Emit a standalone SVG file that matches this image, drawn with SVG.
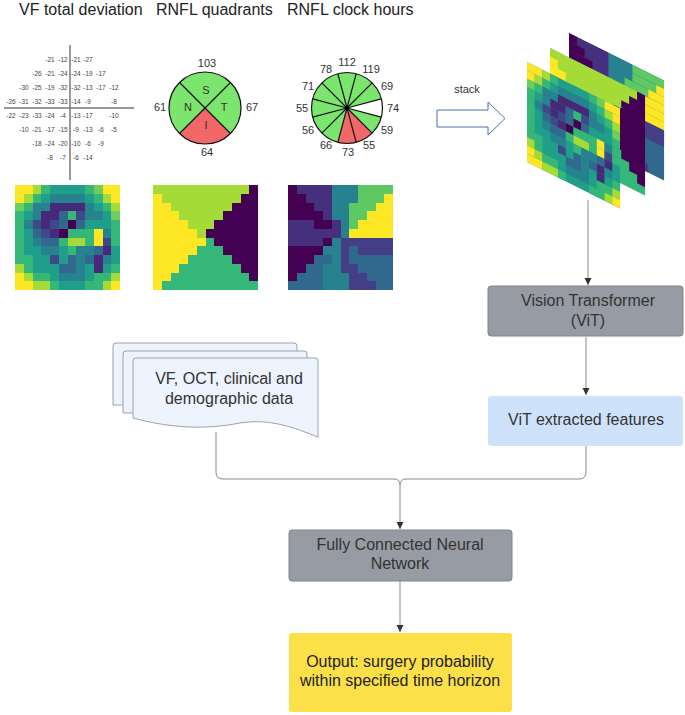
<svg xmlns="http://www.w3.org/2000/svg" width="685" height="715" viewBox="0 0 685 715">
<defs>
<style>
text{font-family:"Liberation Sans",Arial,sans-serif}
.title{font-size:16px;fill:#222}
.vf{font-size:6.5px;fill:#444;text-anchor:middle}
.lbl{font-size:11px;fill:#333;text-anchor:middle}
.box{font-size:16px;fill:#333;text-anchor:middle}
.y{fill:#fde725}.ll{fill:#a5db36}.l{fill:#6ece58}.g{fill:#35b779}.t2{fill:#1f9e89}.t{fill:#26828e}.t1{fill:#31688e}.b{fill:#3e4989}.p{fill:#482878}.d{fill:#440154}
.pu{fill:#46307e}.pb{fill:#433e85}.gr{fill:#5ec962}
.conn{fill:none;stroke:#8a8a8a;stroke-width:1}
.doc{fill:#edf4fd;stroke:#9aa3ad;stroke-width:1}
</style>
<marker id="ah" markerUnits="userSpaceOnUse" markerWidth="8" markerHeight="8" refX="7" refY="4" orient="auto"><path d="M0,0.5 L7,4 L0,7.5 Z" fill="#333"/></marker>
<g id="vfmap">
<rect class="t2" x="0" y="0" width="12" height="12"/>
<rect class="y" x="0" y="0" width="2" height="1"/><rect class="ll" x="2" y="0" width="1" height="1"/><rect class="g" x="3" y="0" width="1" height="1"/><rect class="g" x="8" y="0" width="1" height="1"/><rect class="l" x="9" y="0" width="1" height="1"/><rect class="y" x="10" y="0" width="2" height="1"/>
<rect class="y" x="0" y="1" width="1" height="1"/><rect class="ll" x="1" y="1" width="1" height="1"/><rect class="g" x="2" y="1" width="1" height="1"/><rect class="t" x="4" y="1" width="4" height="1"/><rect class="g" x="9" y="1" width="1" height="1"/><rect class="ll" x="10" y="1" width="1" height="1"/><rect class="y" x="11" y="1" width="1" height="1"/>
<rect class="l" x="0" y="2" width="1" height="1"/><rect class="g" x="1" y="2" width="1" height="1"/><rect class="t" x="2" y="2" width="2" height="1"/><rect class="p" x="4" y="2" width="4" height="1"/><rect class="t" x="8" y="2" width="1" height="1"/><rect class="g" x="10" y="2" width="1" height="1"/><rect class="ll" x="11" y="2" width="1" height="1"/>
<rect class="g" x="0" y="3" width="1" height="1"/><rect class="t" x="2" y="3" width="1" height="1"/><rect class="p" x="3" y="3" width="2" height="1"/><rect class="t1" x="5" y="3" width="1" height="1"/><rect class="g" x="6" y="3" width="1" height="1"/><rect class="b" x="7" y="3" width="1" height="1"/><rect class="t" x="8" y="3" width="2" height="1"/><rect class="l" x="11" y="3" width="1" height="1"/>
<rect class="g" x="0" y="4" width="1" height="1"/><rect class="t" x="1" y="4" width="1" height="1"/><rect class="b" x="2" y="4" width="1" height="1"/><rect class="p" x="3" y="4" width="1" height="1"/><rect class="b" x="4" y="4" width="1" height="1"/><rect class="t1" x="5" y="4" width="1" height="1"/><rect class="d" x="6" y="4" width="1" height="1"/><rect class="t1" x="7" y="4" width="1" height="1"/><rect class="g" x="11" y="4" width="1" height="1"/>
<rect class="g" x="0" y="5" width="1" height="1"/><rect class="t1" x="2" y="5" width="1" height="1"/><rect class="b" x="3" y="5" width="1" height="1"/><rect class="p" x="4" y="5" width="1" height="1"/><rect class="d" x="5" y="5" width="1" height="1"/><rect class="g" x="6" y="5" width="3" height="1"/><rect class="y" x="9" y="5" width="1" height="1"/><rect class="t" x="10" y="5" width="1" height="1"/><rect class="g" x="11" y="5" width="1" height="1"/>
<rect class="g" x="0" y="6" width="1" height="1"/><rect class="t" x="2" y="6" width="1" height="1"/><rect class="t1" x="3" y="6" width="2" height="1"/><rect class="g" x="5" y="6" width="1" height="1"/><rect class="ll" x="6" y="6" width="2" height="1"/><rect class="g" x="8" y="6" width="1" height="1"/><rect class="y" x="9" y="6" width="1" height="1"/><rect class="b" x="10" y="6" width="1" height="1"/><rect class="g" x="11" y="6" width="1" height="1"/>
<rect class="g" x="0" y="7" width="1" height="1"/><rect class="t" x="3" y="7" width="2" height="1"/><rect class="g" x="6" y="7" width="1" height="1"/><rect class="t" x="7" y="7" width="2" height="1"/><rect class="t1" x="9" y="7" width="1" height="1"/><rect class="p" x="10" y="7" width="1" height="1"/>
<rect class="g" x="0" y="8" width="2" height="1"/><rect class="b" x="4" y="8" width="1" height="1"/><rect class="t1" x="6" y="8" width="1" height="1"/><rect class="t" x="7" y="8" width="1" height="1"/><rect class="t1" x="8" y="8" width="1" height="1"/><rect class="p" x="9" y="8" width="1" height="1"/><rect class="t" x="10" y="8" width="1" height="1"/>
<rect class="ll" x="0" y="9" width="1" height="1"/><rect class="g" x="1" y="9" width="1" height="1"/><rect class="t1" x="5" y="9" width="2" height="1"/><rect class="t" x="7" y="9" width="1" height="1"/><rect class="p" x="9" y="9" width="1" height="1"/><rect class="g" x="11" y="9" width="1" height="1"/>
<rect class="y" x="0" y="10" width="1" height="1"/><rect class="ll" x="1" y="10" width="1" height="1"/><rect class="g" x="2" y="10" width="2" height="1"/><rect class="t" x="5" y="10" width="3" height="1"/><rect class="g" x="9" y="10" width="2" height="1"/><rect class="ll" x="11" y="10" width="1" height="1"/>
<rect class="y" x="0" y="11" width="2" height="1"/><rect class="ll" x="2" y="11" width="2" height="1"/><rect class="g" x="4" y="11" width="1" height="1"/><rect class="g" x="8" y="11" width="2" height="1"/><rect class="ll" x="10" y="11" width="1" height="1"/><rect class="y" x="11" y="11" width="1" height="1"/>
</g>
<g id="qmap">
<rect class="g" x="0" y="0" width="12" height="12"/>
<polygon class="ll" points="0,0 11,0 11,1 10,1 10,2 9,2 9,3 8,3 8,4 7,4 7,5 6,5 6,6 5,6 5,5 4,5 4,4 3,4 3,3 2,3 2,2 1,2 1,1 0,1"/>
<polygon class="d" points="11,0 12,0 12,11 11,11 11,10 10,10 10,9 9,9 9,8 8,8 8,7 7,7 7,6 6,6 6,5 7,5 7,4 8,4 8,3 9,3 9,2 10,2 10,1 11,1"/>
<polygon class="y" points="0,1 1,1 1,2 2,2 2,3 3,3 3,4 4,4 4,5 5,5 5,6 6,6 6,7 5,7 5,8 4,8 4,9 3,9 3,10 2,10 2,11 1,11 1,12 0,12"/>
</g>
<g id="cmap">
<rect class="t1" x="0" y="0" width="12" height="12"/>
<rect class="d" x="0" y="0" width="1" height="1"/><rect class="pu" x="1" y="0" width="4" height="1"/><rect class="t" x="5" y="0" width="3" height="1"/><rect class="gr" x="8" y="0" width="4" height="1"/>
<rect class="d" x="0" y="1" width="2" height="1"/><rect class="pu" x="2" y="1" width="3" height="1"/><rect class="t" x="5" y="1" width="3" height="1"/><rect class="gr" x="8" y="1" width="3" height="1"/><rect class="y" x="11" y="1" width="1" height="1"/>
<rect class="d" x="0" y="2" width="3" height="1"/><rect class="pu" x="3" y="2" width="2" height="1"/><rect class="t" x="5" y="2" width="2" height="1"/><rect class="gr" x="7" y="2" width="3" height="1"/><rect class="y" x="10" y="2" width="2" height="1"/>
<rect class="d" x="0" y="3" width="4" height="1"/><rect class="pu" x="4" y="3" width="1" height="1"/><rect class="t" x="5" y="3" width="2" height="1"/><rect class="gr" x="7" y="3" width="2" height="1"/><rect class="y" x="9" y="3" width="3" height="1"/>
<rect class="pu" x="0" y="4" width="3" height="1"/><rect class="d" x="3" y="4" width="2" height="1"/><rect class="pu" x="5" y="4" width="1" height="1"/><rect class="t" x="6" y="4" width="1" height="1"/><rect class="gr" x="7" y="4" width="1" height="1"/><rect class="y" x="8" y="4" width="4" height="1"/>
<rect class="pu" x="0" y="5" width="6" height="1"/><rect class="t" x="6" y="5" width="1" height="1"/><rect class="y" x="7" y="5" width="5" height="1"/>
<rect class="pu" x="0" y="6" width="4" height="1"/><rect class="d" x="4" y="6" width="1" height="1"/><rect class="t" x="5" y="6" width="1" height="1"/><rect class="pb" x="6" y="6" width="6" height="1"/>
<rect class="d" x="0" y="7" width="4" height="1"/><rect class="t" x="4" y="7" width="2" height="1"/><rect class="pb" x="6" y="7" width="1" height="1"/><rect class="pb" x="8" y="7" width="4" height="1"/>
<rect class="d" x="0" y="8" width="3" height="1"/><rect class="t" x="5" y="8" width="1" height="1"/><rect class="pb" x="6" y="8" width="1" height="1"/>
<rect class="d" x="0" y="9" width="2" height="1"/><rect class="t" x="4" y="9" width="2" height="1"/><rect class="pb" x="6" y="9" width="2" height="1"/>
<rect class="d" x="0" y="10" width="1" height="1"/><rect class="t" x="4" y="10" width="3" height="1"/><rect class="pb" x="7" y="10" width="2" height="1"/>
<rect class="t" x="4" y="11" width="3" height="1"/><rect class="pb" x="7" y="11" width="3" height="1"/>
</g>
</defs>

<rect width="685" height="715" fill="#ffffff"/>

<g id="titles">
<text class="title" x="19" y="15">VF total deviation</text>
<text class="title" x="156" y="15">RNFL quadrants</text>
<text class="title" x="287" y="15">RNFL clock hours</text>
</g>

<g id="vf-total-deviation">
<line x1="70" y1="45" x2="70" y2="180" stroke="#777" stroke-width="1.5"/>
<line x1="4" y1="108" x2="134" y2="108" stroke="#777" stroke-width="1.5"/>
<g class="vf">
<text x="50" y="62">-21</text><text x="63" y="62">-12</text><text x="76" y="62">-21</text><text x="88" y="62">-27</text>
<text x="37" y="76">-26</text><text x="50" y="76">-21</text><text x="63" y="76">-24</text><text x="76" y="76">-24</text><text x="88" y="76">-19</text><text x="101" y="76">-17</text>
<text x="24" y="90">-30</text><text x="37" y="90">-25</text><text x="50" y="90">-19</text><text x="63" y="90">-32</text><text x="76" y="90">-32</text><text x="88" y="90">-13</text><text x="101" y="90">-17</text><text x="114" y="90">-12</text>
<text x="11" y="104">-26</text><text x="24" y="104">-31</text><text x="37" y="104">-32</text><text x="50" y="104">-33</text><text x="63" y="104">-33</text><text x="76" y="104">-14</text><text x="88" y="104">-9</text><text x="114" y="104">-8</text>
<text x="11" y="118">-22</text><text x="24" y="118">-23</text><text x="37" y="118">-33</text><text x="50" y="118">-24</text><text x="63" y="118">-4</text><text x="76" y="118">-13</text><text x="88" y="118">-17</text><text x="114" y="118">-10</text>
<text x="24" y="132">-10</text><text x="37" y="132">-21</text><text x="50" y="132">-17</text><text x="63" y="132">-15</text><text x="76" y="132">-9</text><text x="88" y="132">-13</text><text x="101" y="132">-6</text><text x="114" y="132">-5</text>
<text x="37" y="146">-18</text><text x="50" y="146">-24</text><text x="63" y="146">-20</text><text x="76" y="146">-10</text><text x="88" y="146">-6</text><text x="101" y="146">-9</text>
<text x="50" y="160">-8</text><text x="63" y="160">-7</text><text x="76" y="160">-6</text><text x="88" y="160">-14</text>
</g>
</g>

<g id="rnfl-quadrants">
<circle cx="205" cy="108" r="36" fill="#7be56d"/>
<path d="M205,108 L230.46,133.46 A36,36 0 0 1 179.54,133.46 Z" fill="#f26767"/>
<line x1="179.54" y1="82.54" x2="230.46" y2="133.46" stroke="#111" stroke-width="1.2"/>
<line x1="230.46" y1="82.54" x2="179.54" y2="133.46" stroke="#111" stroke-width="1.2"/>
<circle cx="205" cy="108" r="36" fill="none" stroke="#111" stroke-width="1.2"/>
<text class="lbl" x="206" y="94">S</text><text class="lbl" x="188" y="111">N</text><text class="lbl" x="224" y="111">T</text><text class="lbl" x="206" y="129">I</text>
<text class="lbl" x="207" y="67">103</text><text class="lbl" x="160" y="111">61</text><text class="lbl" x="252" y="111">67</text><text class="lbl" x="207" y="156">64</text>
</g>

<g id="rnfl-clock-hours">
<circle cx="347" cy="108" r="35.5" fill="#7be56d"/>
<path d="M347,108 L381.29,98.81 A35.5,35.5 0 0 1 381.29,117.19 Z" fill="#ffffff"/>
<path d="M347,108 L372.1,133.1 A35.5,35.5 0 0 1 337.81,142.29 Z" fill="#f26767"/>
<g stroke="#111" stroke-width="1.2">
<line x1="347" y1="108" x2="356.19" y2="73.71"/><line x1="347" y1="108" x2="372.1" y2="82.9"/><line x1="347" y1="108" x2="381.29" y2="98.81"/><line x1="347" y1="108" x2="381.29" y2="117.19"/><line x1="347" y1="108" x2="372.1" y2="133.1"/><line x1="347" y1="108" x2="356.19" y2="142.29"/><line x1="347" y1="108" x2="337.81" y2="142.29"/><line x1="347" y1="108" x2="321.9" y2="133.1"/><line x1="347" y1="108" x2="312.71" y2="117.19"/><line x1="347" y1="108" x2="312.71" y2="98.81"/><line x1="347" y1="108" x2="321.9" y2="82.9"/><line x1="347" y1="108" x2="337.81" y2="73.71"/>
</g>
<circle cx="347" cy="108" r="35.5" fill="none" stroke="#111" stroke-width="1.2"/>
<circle cx="347" cy="108" r="2" fill="#000"/>
<text class="lbl" x="347" y="66">112</text><text class="lbl" x="371" y="73">119</text><text class="lbl" x="387" y="90">69</text><text class="lbl" x="393" y="112">74</text><text class="lbl" x="387" y="134">59</text><text class="lbl" x="369" y="149">55</text><text class="lbl" x="348" y="156">73</text><text class="lbl" x="326" y="149">66</text><text class="lbl" x="308" y="134">56</text><text class="lbl" x="302" y="112">55</text><text class="lbl" x="308" y="90">71</text><text class="lbl" x="326" y="73">78</text>
</g>

<g id="heatmaps" shape-rendering="crispEdges">
<use href="#vfmap" transform="translate(15,185) scale(8.75)"/>
<use href="#qmap" transform="translate(153,185) scale(8.75)"/>
<use href="#cmap" transform="translate(288,185) scale(8.75)"/>
</g>

<g id="stack-arrow">
<polygon points="437,110 488,110 488,102 505,118.5 488,135 488,127 437,127" fill="#ffffff" stroke="#4c6fae" stroke-width="1"/>
<text x="467" y="93" style="font-size:11px;fill:#333;text-anchor:middle">stack</text>
</g>

<g id="stacked-images">
<use href="#cmap" transform="matrix(1,0.5,0,1,569,33) scale(7.92,8.33)"/>
<use href="#qmap" transform="matrix(1,0.5,0,1,550,48) scale(7.92,8.33)"/>
<use href="#vfmap" transform="matrix(1,0.5,0,1,527,62) scale(7.75,8.33)"/>
</g>

<g id="connectors">
<path class="conn" d="M588,200 V285" marker-end="url(#ah)"/>
<path class="conn" d="M586,337 V395" marker-end="url(#ah)"/>
<path class="conn" d="M216,432 V472 Q216,479 223,479 H394 Q400,479 400,485"/>
<path class="conn" d="M586,446 V472 Q586,479 579,479 H406 Q400,479 400,485"/>
<path class="conn" d="M400,485 V529" marker-end="url(#ah)"/>
<path class="conn" d="M400,581 V632" marker-end="url(#ah)"/>
</g>

<g id="data-docs">
<path class="doc" d="M116,343 H294 Q297,343 297,346 V405 L113,405 V346 Q113,343 116,343 Z"/>
<path class="doc" d="M126,351 H304 Q307,351 307,354 V413 L123,413 V354 Q123,351 126,351 Z"/>
<path class="doc" d="M136,358 H315 Q318,358 318,361 V437 C295,428 270,418 240,423 C205,430 170,428 133,418 V361 Q133,358 136,358 Z"/>
<text class="box" x="229" y="384">VF, OCT, clinical and</text>
<text class="box" x="229" y="404">demographic data</text>
</g>

<g id="vit">
<rect x="488" y="286" width="195" height="50" rx="3" fill="#979ba4" stroke="#80848c" stroke-width="1"/>
<text class="box" x="588" y="306">Vision Transformer</text>
<text class="box" x="588" y="326">(ViT)</text>
</g>

<g id="vit-features">
<rect x="488" y="396" width="195" height="50" rx="3" fill="#cfe2fb"/>
<text class="box" x="586" y="425">ViT extracted features</text>
</g>

<g id="fcnn">
<rect x="289" y="530" width="223" height="51" rx="3" fill="#979ba4" stroke="#80848c" stroke-width="1"/>
<text class="box" x="400" y="550">Fully Connected Neural</text>
<text class="box" x="400" y="569">Network</text>
</g>

<g id="output">
<rect x="289" y="633" width="223" height="79" rx="3" fill="#fde047"/>
<text class="box" x="400" y="667" style="fill:#222">Output: surgery probability</text>
<text class="box" x="400" y="686" style="fill:#222">within specified time horizon</text>
</g>
</svg>
